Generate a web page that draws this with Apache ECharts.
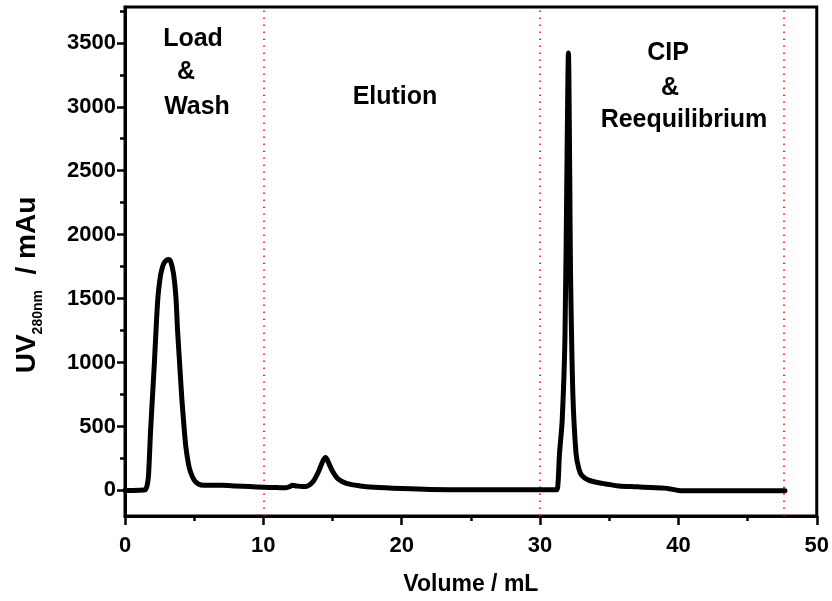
<!DOCTYPE html>
<html>
<head>
<meta charset="utf-8">
<script src="https://cdn.jsdelivr.net/npm/echarts@6/dist/echarts.min.js"></script>
<style>html,body{margin:0;padding:0;background:#fff}#c{width:832px;height:601px}</style>
</head>
<body>
<div id="c"></div>
<script>
const volume = [0, 1.0, 1.45, 1.6, 1.7, 1.85, 2.0, 2.12, 2.25, 2.38, 2.5, 2.6, 2.8, 3.0, 3.15, 3.3, 3.5, 3.68, 3.8, 3.95, 4.1, 4.25, 4.4, 4.6, 4.75, 5.0, 5.3, 5.7, 7.0, 8.0, 9.0, 10.0, 11.0, 11.6, 11.9, 12.1, 12.4, 12.8, 13.2, 13.6, 14.0, 14.3, 14.5, 14.7, 15.0, 15.4, 16.0, 17.0, 18.0, 20.0, 22.0, 25.0, 31.2, 31.3, 31.4, 31.6, 31.8, 31.95, 32.05, 32.15, 32.2, 32.37, 32.6, 32.8, 33.0, 33.5, 34.5, 35.7, 37.0, 38.0, 39.0, 39.5, 40.0, 41.0, 47.7];
const uv = [0, 2, 5, 40, 120, 470, 760, 990, 1270, 1510, 1630, 1700, 1775, 1800, 1805, 1790, 1700, 1510, 1250, 990, 730, 520, 340, 200, 140, 80, 50, 40, 40, 35, 30, 25, 22, 20, 30, 40, 35, 30, 35, 70, 150, 230, 258, 220, 150, 90, 55, 35, 25, 15, 8, 5, 5, 60, 280, 550, 1200, 2600, 3420, 2400, 1720, 760, 290, 170, 120, 80, 55, 35, 28, 22, 18, 10, 0, -3, -3];
const phaseBoundaries = [10, 30, 47.6];
const yMajorTicks = [0, 500, 1000, 1500, 2000, 2500, 3000, 3500];
const yMinorTicks = [250, 750, 1250, 1750, 2250, 2750, 3250, 3750];
const phaseLabels = [
  {text: 'Load', x: 193, y: 39},
  {text: '&', x: 186, y: 72},
  {text: 'Wash', x: 197, y: 107},
  {text: 'Elution', x: 395, y: 97},
  {text: 'CIP', x: 668, y: 53},
  {text: '&', x: 670, y: 88},
  {text: 'Reequilibrium', x: 684, y: 120}
];

const FONT = '"Liberation Sans", Arial, sans-serif';
const chart = echarts.init(document.getElementById('c'), null, {renderer: 'canvas'});
const pts = volume.map((v, i) => [v, uv[i]]);

const graphics = phaseLabels.map(p => ({
  type: 'text', x: p.x, y: p.y, z: 100,
  style: {text: p.text, fill: '#000', font: 'bold 25px ' + FONT, align: 'center', verticalAlign: 'middle'}
}));
graphics.push({
  type: 'text', x: 27, y: 285, rotation: Math.PI / 2, z: 100,
  style: {
    text: '{a|UV}{b|280nm}{a|  / mAu}',
    align: 'center', verticalAlign: 'middle',
    rich: {
      a: {font: 'bold 28px ' + FONT, fill: '#000', verticalAlign: 'bottom'},
      b: {font: 'bold 14px ' + FONT, fill: '#000', verticalAlign: 'bottom', padding: [0, 0, -4, 0]}
    }
  }
});

chart.setOption({
  animation: false,
  backgroundColor: '#fff',
  grid: {left: 125, right: 15, top: 7, bottom: 85, show: true, borderColor: '#000', borderWidth: 3, backgroundColor: 'transparent'},
  xAxis: {
    type: 'value', min: 0, max: 50, interval: 10,
    name: 'Volume / mL', nameLocation: 'middle', nameGap: 57,
    nameTextStyle: {fontFamily: FONT, fontWeight: 'bold', fontSize: 23, color: '#000'},
    axisLine: {show: true, onZero: false, lineStyle: {color: '#000', width: 3}},
    axisTick: {show: true, length: 9, lineStyle: {color: '#000', width: 2.5}},
    minorTick: {show: true, splitNumber: 2, length: 5, lineStyle: {color: '#000', width: 2.5}},
    axisLabel: {margin: 19, fontFamily: FONT, fontWeight: 'bold', fontSize: 22, color: '#000'},
    splitLine: {show: false}
  },
  yAxis: [{
    type: 'value', min: -200, max: 3780,
    axisLine: {show: true, onZero: false, lineStyle: {color: '#000', width: 3}},
    axisTick: {show: true, length: 8, customValues: yMajorTicks, lineStyle: {color: '#000', width: 2.5}},
    axisLabel: {customValues: yMajorTicks, formatter: v => String(v), margin: 9, fontFamily: FONT, fontWeight: 'bold', fontSize: 22, color: '#000'},
    splitLine: {show: false}
  }, {
    type: 'value', min: -200, max: 3780, position: 'left',
    axisLine: {show: false},
    axisTick: {show: true, length: 5, customValues: yMinorTicks, lineStyle: {color: '#000', width: 2.5}},
    axisLabel: {show: false},
    splitLine: {show: false}
  }],
  series: [{
    type: 'line', data: pts, xAxisIndex: 0, yAxisIndex: 0,
    showSymbol: false, smooth: 0.3, z: 5,
    lineStyle: {color: '#000', width: 5, cap: 'round', join: 'round'},
    markLine: {
      silent: true, symbol: 'none', label: {show: false},
      lineStyle: {color: '#ff0000', width: 1.5, type: [1.5, 5.5]},
      data: phaseBoundaries.map(v => ({xAxis: v}))
    }
  }],
  graphic: graphics
});
</script>
</body>
</html>
